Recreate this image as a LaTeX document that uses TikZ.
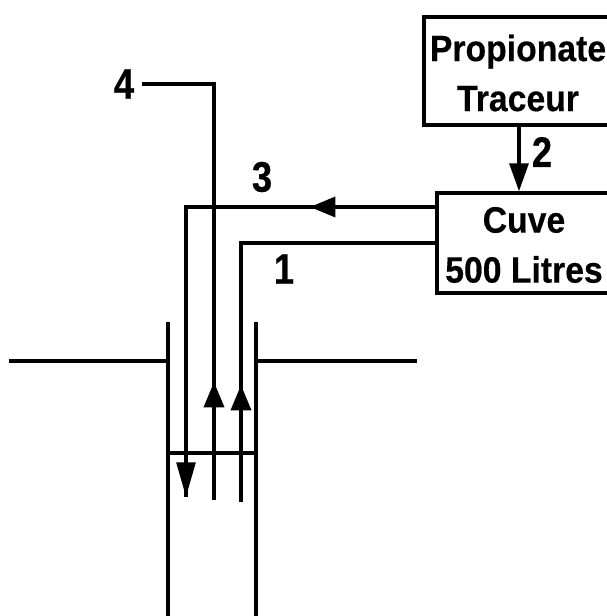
\documentclass[tikz,border=0pt]{standalone}
\usepackage{fontspec}
\usetikzlibrary{arrows.meta}
\newfontfamily\boxfont[FakeStretch=0.92,FakeBold=0.4]{Liberation Sans Bold}
\newfontfamily\numfont[FakeStretch=0.85,FakeBold=0.6]{Liberation Sans Bold}
\tikzset{
  boxnode/.style={draw=black,line width=2.4pt,inner sep=0pt},
  boxtext/.style={inner sep=0pt,align=center,text=black,
    font=\boxfont\fontsize{27.5}{37.5}\selectfont},
  numlabel/.style={inner sep=0pt,text=black,font=\numfont\fontsize{32}{32}\selectfont},
  pipe/.style={draw=black,line width=2.7pt},
  thickpipe/.style={draw=black,line width=3pt},
  wall/.style={draw=black,line width=2.4pt},
  ground/.style={draw=black,line width=3pt},
  tip/.style={-{Triangle[length=21pt,width=14pt,fill=black]}},
  tiplong/.style={-{Triangle[length=26pt,width=14pt,fill=black]}},
  tipshort/.style={-{Triangle[length=19pt,width=15pt,fill=black]}}
}
\begin{document}
\begin{tikzpicture}[x=0.75pt,y=-0.75pt]
\useasboundingbox (0,0) rectangle (606,616);
% walls, ground, water level
\coordinate (wlt) at (168,322); \coordinate (wlb) at (168,616);
\coordinate (wrt) at (256,322); \coordinate (wrb) at (256,616);
\coordinate (gl0) at (9,361);   \coordinate (gl1) at (168,361);
\coordinate (gr0) at (257,361); \coordinate (gr1) at (417,361);
\coordinate (lvl0) at (168,453);\coordinate (lvl1) at (256,453);
\draw[wall] (wlt) -- (wlb);
\draw[wall] (wrt) -- (wrb);
\draw[ground] (gl0) -- (gl1);
\draw[ground] (gr0) -- (gr1);
\draw[wall] (lvl0) -- (lvl1);
% boxes
\node[boxnode,minimum width=141pt,minimum height=81pt] (prop) at (518,71) {};
\node[boxnode,minimum width=130.5pt,minimum height=75pt] (cuve) at (524,243) {};
\node[boxtext] (proptext) at (518,73) {Propionate\\Traceur};
\node[boxtext] (cuvetext) at (524,245) {Cuve\\500 Litres};
% labels
\node[numlabel] (n4) at (124,84) {4};
\node[numlabel] (n3) at (262,177) {3};
\node[numlabel] (n1) at (284,269) {1};
\node[numlabel] (n2) at (542,152) {2};
% line 4
\coordinate (p4a) at (142,84); \coordinate (p4b) at (214,84);
\coordinate (p4tip) at (214,382); \coordinate (p4end) at (214,500);
\draw[pipe] (p4a) -- (p4b) -- (p4end);
\draw[tipshort,pipe] (p4end) -- (p4tip);
% line 1
\coordinate (p1a) at (cuve.west |- 0,243); \coordinate (p1b) at (241,243);
\coordinate (p1tip) at (241,385); \coordinate (p1end) at (241,502);
\draw[pipe] (p1a) -- (p1b) -- (p1end);
\draw[tipshort,pipe] (p1end) -- (p1tip);
% line 3
\coordinate (p3a) at (cuve.west |- 0,207); \coordinate (p3tip) at (310,207);
\coordinate (p3b) at (186,207); \coordinate (p3end) at (186,497);
\draw[pipe] (p3a) -- (p3b) -- (p3end);
\draw[tipshort,pipe] (p3a) -- (p3tip);
\draw[tiplong,pipe] (p3b) -- (p3end);
% line 2
\draw[tip,thickpipe] (prop.south -| 519,0) -- (cuve.north -| 519,0);
\end{tikzpicture}
\end{document}
